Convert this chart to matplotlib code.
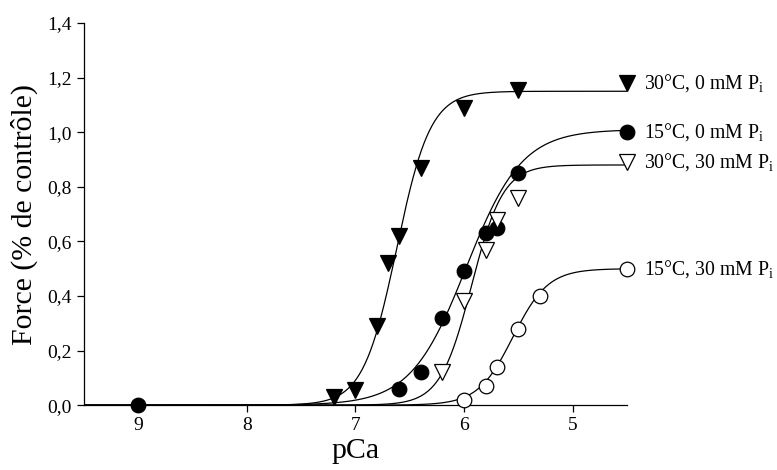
import numpy as np
import matplotlib
matplotlib.use('Agg')
import matplotlib.pyplot as plt

plt.rcParams['font.family'] = ['Liberation Serif', 'DejaVu Serif']
plt.rcParams['mathtext.fontset'] = 'custom'
plt.rcParams['mathtext.rm'] = 'Liberation Serif'

# measured points (pCa, relative force)
pca_30_0 = [7.2, 7.0, 6.8, 6.7, 6.6, 6.4, 6.0, 5.5]
f_30_0 = [0.03, 0.055, 0.29, 0.52, 0.62, 0.87, 1.09, 1.155]

pca_15_0 = [9.0, 6.6, 6.4, 6.2, 6.0, 5.8, 5.7, 5.5]
f_15_0 = [0.0, 0.06, 0.12, 0.32, 0.49, 0.63, 0.65, 0.85]

pca_30_30 = [6.2, 6.0, 5.8, 5.7, 5.5]
f_30_30 = [0.12, 0.38, 0.57, 0.68, 0.76]

pca_15_30 = [6.0, 5.8, 5.7, 5.5, 5.3]
f_15_30 = [0.02, 0.07, 0.14, 0.28, 0.40]

# Hill fit parameters: Fmax, pCa50, nH
fit_30_0 = (1.15, 6.62, 2.8)
fit_15_0 = (1.01, 5.98, 1.7)
fit_30_30 = (0.88, 5.93, 3.0)
fit_15_30 = (0.50, 5.55, 2.7)

# labels at the right end
label_y = [1.18, 1.0, 0.89, 0.50]
labels = ['30°C, 0 mM P$_\\mathregular{i}$', '15°C, 0 mM P$_\\mathregular{i}$',
          '30°C, 30 mM P$_\\mathregular{i}$', '15°C, 30 mM P$_\\mathregular{i}$']


def hill(x, fmax, p50, n):
    return fmax / (1 + 10 ** (n * (x - p50)))


fig = plt.figure(figsize=(7.77, 4.70), dpi=100)
ax = fig.add_axes([0.108, 0.138, 0.699, 0.813])

xs = np.linspace(9.5, 4.5, 600)
series = [
    (pca_30_0, f_30_0, fit_30_0, 'v', 'black'),
    (pca_15_0, f_15_0, fit_15_0, 'o', 'black'),
    (pca_30_30, f_30_30, fit_30_30, 'v', 'white'),
    (pca_15_30, f_15_30, fit_15_30, 'o', 'white'),
]
for (px, py, fit, mk, fc), ly, lab in zip(series, label_y, labels):
    ax.plot(xs, hill(xs, *fit), color='black', lw=0.9, zorder=2)
    ms = 10.5 if mk == 'o' else 11
    ax.plot(px, py, linestyle='none', marker=mk, ms=ms, mfc=fc,
            mec='black', mew=0.9, zorder=3, clip_on=False)
    ax.plot([4.5], [ly], linestyle='none', marker=mk, ms=ms, mfc=fc,
            mec='black', mew=0.9, zorder=3, clip_on=False)
    ax.annotate(lab, xy=(4.5, ly), xytext=(12, 0), textcoords='offset points',
                va='center', ha='left', fontsize=14.2, annotation_clip=False)

ax.set_xlim(9.5, 4.5)
ax.set_ylim(0, 1.4)
ax.set_xticks([9, 8, 7, 6, 5])
yt = np.arange(0, 1.41, 0.2)
ax.set_yticks(yt)
ax.set_yticklabels([('%.1f' % v).replace('.', ',') for v in yt])
ax.tick_params(labelsize=14, direction='out', length=5, width=0.9)
for s in ['top', 'right']:
    ax.spines[s].set_visible(False)
for s in ['left', 'bottom']:
    ax.spines[s].set_linewidth(0.9)

ax.set_xlabel('pCa', fontsize=21.5, labelpad=3)
ax.set_ylabel('Force (% de contrôle)', fontsize=21.5, labelpad=7)

plt.savefig('out.png', dpi=100)
